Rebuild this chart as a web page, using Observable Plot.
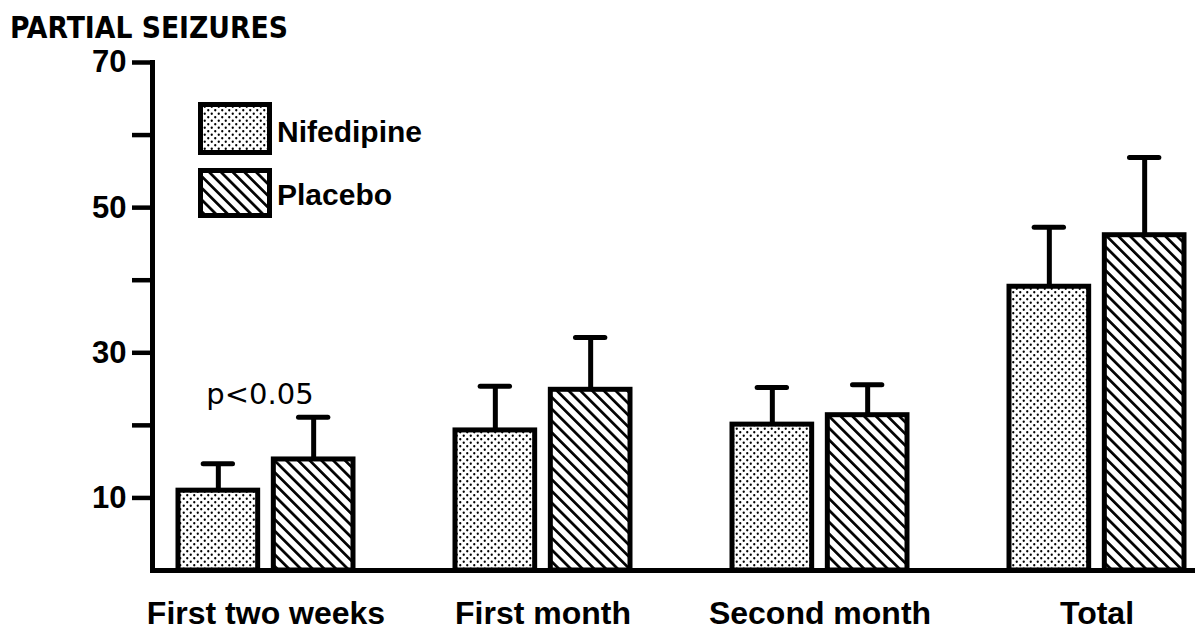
<!DOCTYPE html>
<html>
<head>
<meta charset="utf-8">
<script src="https://cdn.jsdelivr.net/npm/d3@7"></script>
<script src="https://cdn.jsdelivr.net/npm/@observablehq/plot@0.6"></script>
<style>
  html, body { margin: 0; padding: 0; background: #fff; }
  #wrap { position: relative; width: 1198px; height: 633px; overflow: hidden; }
  #chart { position: absolute; left: 0; top: 0; }
  .overlay { position: absolute; left: 0; top: 0; pointer-events: none; }
</style>
</head>
<body>
<svg width="0" height="0" style="position:absolute">
  <defs>
    <pattern id="dots" patternUnits="userSpaceOnUse" width="7" height="7">
      <rect width="7" height="7" fill="#fff"/>
      <circle cx="1.75" cy="1.75" r="1.15" fill="#000"/>
      <circle cx="5.25" cy="5.25" r="1.15" fill="#000"/>
    </pattern>
    <pattern id="stripes" patternUnits="userSpaceOnUse" width="8.3" height="8.3" patternTransform="rotate(-45)">
      <rect width="8.3" height="8.3" fill="#fff"/>
      <rect x="0" y="0" width="2.7" height="8.3" fill="#000"/>
    </pattern>
  </defs>
</svg>
<div id="wrap">
  <div id="chart"></div>
  <svg class="overlay" id="overlay" width="1198" height="633"></svg>
</div>
<script>
// ---- data ----
const groups = ["First two weeks", "First month", "Second month", "Total"];
const series = ["Nifedipine", "Placebo"];
const nifedipine = [11.0, 19.3, 20.1, 39.1];
const nifedipineSD = [3.7, 6.1, 5.1, 8.2];
const placebo = [15.3, 24.9, 21.4, 46.2];
const placeboSD = [5.8, 7.2, 4.2, 10.7];
const yTicks = [10, 20, 30, 40, 50, 60, 70];
const yTickLabels = [10, 30, 50, 70];
const title = "PARTIAL SEIZURES";
const annotation = [{group: "First two weeks", label: "p<0.05", ref: placebo[0] + placeboSD[0]}];

const rows = [];
groups.forEach((g, i) => {
  rows.push({group: g, series: series[0], value: nifedipine[i], sd: nifedipineSD[i], upper: nifedipine[i] + nifedipineSD[i]});
  rows.push({group: g, series: series[1], value: placebo[i], sd: placeboSD[i], upper: placebo[i] + placeboSD[i]});
});
const nifRows = rows.filter(d => d.series === series[0]);
const plaRows = rows.filter(d => d.series === series[1]);

// ---- layout ----
const W = 1198, H = 633, mL = 152, mR = 3, mT = 62, mB = 63;
const pI = 0.3676, pO = 0.0613, align = 0.7;
const step = (W - mL - mR) / (groups.length - pI + 2 * pO);
const bw = step * (1 - pI);
const gap = 15;
const w = (bw - gap) / 2;
const off = (bw - w) / 2;
const capHalf = 15;
const font = "'Liberation Sans', Arial, sans-serif";

const plot = Plot.plot({
  width: W,
  height: H,
  marginLeft: mL,
  marginRight: mR,
  marginTop: mT,
  marginBottom: mB,
  style: {background: "transparent", fontFamily: font, color: "#000"},
  x: {domain: groups, paddingInner: pI, paddingOuter: pO, align: align},
  y: {domain: [0, 70]},
  marks: [
    // error bars (upper only)
    Plot.ruleX(nifRows, {x: "group", y1: "value", y2: "upper", dx: -off, stroke: "#000", strokeWidth: 5}),
    Plot.ruleX(plaRows, {x: "group", y1: "value", y2: "upper", dx: off, stroke: "#000", strokeWidth: 5}),
    Plot.tickY(nifRows, {x: "group", y: "upper", insetLeft: w / 2 - capHalf, insetRight: bw - w / 2 - capHalf, stroke: "#000", strokeWidth: 5, strokeLinecap: "round"}),
    Plot.tickY(plaRows, {x: "group", y: "upper", insetLeft: bw - w / 2 - capHalf, insetRight: w / 2 - capHalf, stroke: "#000", strokeWidth: 5, strokeLinecap: "round"}),
    // bars
    Plot.barY(nifRows, {x: "group", y: "value", insetLeft: 0, insetRight: bw - w, fill: "url(#dots)", stroke: "#000", strokeWidth: 5}),
    Plot.barY(plaRows, {x: "group", y: "value", insetLeft: bw - w, insetRight: 0, fill: "url(#stripes)", stroke: "#000", strokeWidth: 5}),
    // annotation
    Plot.text(annotation, {x: "group", y: "ref", text: "label", lineAnchor: "bottom", dy: -13, dx: -6, fontSize: 29, fontFamily: "'DejaVu Sans', sans-serif", fontWeight: "normal", fill: "#000"}),
    // axis lines
    Plot.frame({anchor: "left", stroke: "#000", strokeWidth: 5}),
    Plot.ruleY([0], {stroke: "#000", strokeWidth: 5, insetLeft: -2}),
    // axes
    Plot.axisY({ticks: yTicks, tickFormat: d => yTickLabels.includes(d) ? String(d) : "", tickSize: 20, tickPadding: 6, fontSize: 31, fontWeight: "bold", stroke: "#000", strokeWidth: 4.5, label: null}),
    Plot.axisX({tickSize: 0, tickPadding: 31, fontSize: 32, fontWeight: "bold", label: null})
  ]
});
document.getElementById("chart").appendChild(plot);

// ---- overlay: title and legend ----
const ov = d3.select("#overlay");
ov.append("text")
  .attr("x", 10).attr("y", 38)
  .attr("font-family", "'Liberation Sans Narrow', 'DejaVu Sans Condensed', 'Liberation Sans', sans-serif")
  .attr("font-weight", "bold").attr("font-size", 31)
  .attr("textLength", 278).attr("lengthAdjust", "spacingAndGlyphs")
  .text(title);

const legendItems = [
  {label: series[0], fill: "url(#dots)", top: 102, base: 142},
  {label: series[1], fill: "url(#stripes)", top: 168, base: 205}
];
legendItems.forEach(it => {
  ov.append("rect").attr("x", 200.5).attr("y", it.top + 2.5).attr("width", 69).attr("height", it.label === series[0] ? 48 : 45)
    .attr("fill", it.fill).attr("stroke", "#000").attr("stroke-width", 5);
  ov.append("text").attr("x", 277).attr("y", it.base)
    .attr("font-family", font).attr("font-weight", "bold").attr("font-size", 30)
    .text(it.label);
});
</script>
</body>
</html>
